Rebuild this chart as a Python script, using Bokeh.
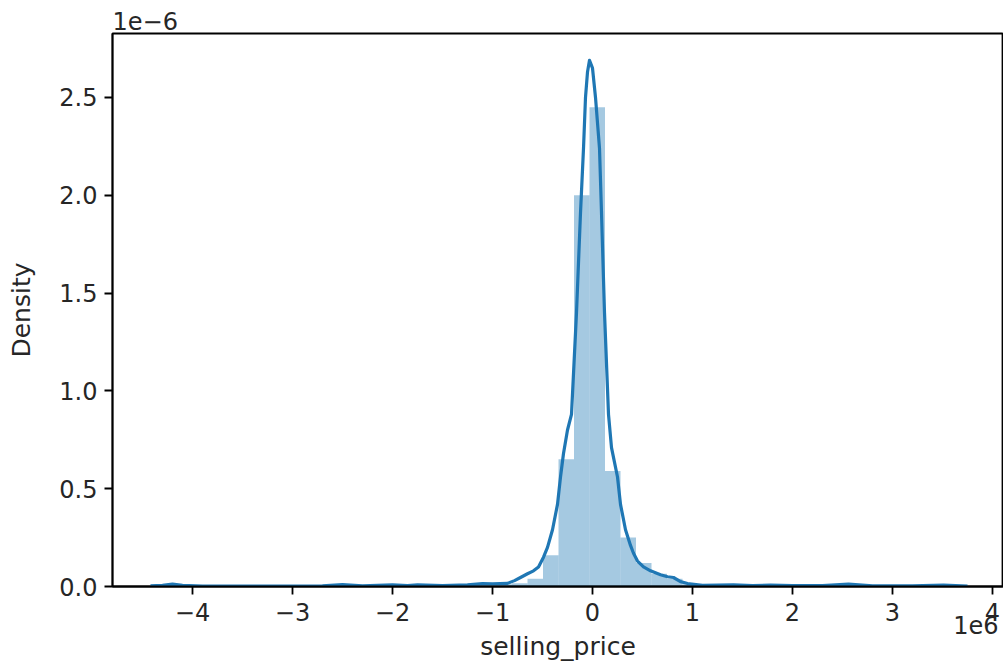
from bokeh.plotting import figure
from bokeh.models import FixedTicker, ColumnDataSource, Title
from bokeh.embed import file_html
from bokeh.resources import INLINE

# Values: x in units of 1e6 (selling_price residual), y in units of 1e-6 (density)
bin_edges = [-4.215, -4.06, -3.905, -3.75, -3.595, -3.44, -3.285, -3.13, -2.975, -2.82,
             -2.665, -2.51, -2.355, -2.2, -2.045, -1.89, -1.735, -1.58, -1.425, -1.27,
             -1.115, -0.96, -0.805, -0.65, -0.495, -0.34, -0.185, -0.03, 0.125, 0.28,
             0.435, 0.59, 0.745, 0.9, 1.055, 1.21, 1.365, 1.52, 1.675, 1.83,
             1.985, 2.14, 2.295, 2.45, 2.605, 2.76, 2.915, 3.07, 3.225, 3.38, 3.535]
bin_density = [0.006, 0.0, 0.0, 0.0, 0.002, 0.0, 0.0, 0.002, 0.0, 0.002,
               0.004, 0.006, 0.0, 0.002, 0.006, 0.004, 0.006, 0.002, 0.004, 0.006,
               0.012, 0.012, 0.016, 0.04, 0.16, 0.65, 2.0, 2.45, 0.59, 0.25,
               0.12, 0.065, 0.04, 0.012, 0.004, 0.004, 0.004, 0.002, 0.004, 0.002,
               0.002, 0.0, 0.004, 0.008, 0.004, 0.0, 0.002, 0.002, 0.002, 0.004]

kde_x = [-4.42, -4.3, -4.2, -4.1, -3.9, -3.5, -3.0, -2.7, -2.5, -2.3, -2.0, -1.85, -1.75,
         -1.5, -1.25, -1.1, -1.0, -0.85, -0.78, -0.72, -0.65, -0.59, -0.54, -0.49, -0.45,
         -0.40, -0.35, -0.32, -0.29, -0.25, -0.21, -0.16, -0.12, -0.09, -0.07, -0.05,
         -0.03, 0.0, 0.03, 0.07, 0.09, 0.12, 0.16, 0.19, 0.25, 0.28, 0.33, 0.38, 0.41,
         0.45, 0.51, 0.58, 0.68, 0.75, 0.81, 0.88, 0.95, 1.1, 1.41, 1.6, 1.78, 2.0, 2.3,
         2.56, 2.8, 3.2, 3.51, 3.75]
kde_y = [0.003, 0.006, 0.012, 0.006, 0.002, 0.002, 0.002, 0.003, 0.010, 0.003, 0.008, 0.005, 0.008,
         0.004, 0.008, 0.015, 0.014, 0.016, 0.03, 0.046, 0.065, 0.08, 0.10, 0.15, 0.20,
         0.29, 0.42, 0.56, 0.68, 0.80, 0.88, 1.40, 1.91, 2.24, 2.50, 2.63,
         2.69, 2.65, 2.50, 2.24, 1.91, 1.40, 0.88, 0.71, 0.56, 0.42, 0.29, 0.21, 0.17,
         0.13, 0.10, 0.08, 0.06, 0.05, 0.046, 0.025, 0.015, 0.006, 0.008, 0.004, 0.007, 0.004, 0.004,
         0.012, 0.003, 0.003, 0.007, 0.002]

x_ticks = [-4, -3, -2, -1, 0, 1, 2, 3, 4]
x_tick_labels = ["−4", "−3", "−2", "−1", "0", "1", "2", "3", "4"]
y_ticks = [0.0, 0.5, 1.0, 1.5, 2.0, 2.5]
y_tick_labels = ["0.0", "0.5", "1.0", "1.5", "2.0", "2.5"]
y_offset_text = "1e−6"
x_offset_text = "1e6"
x_label = "selling_price"
y_label = "Density"

FONT = "DejaVu Sans"
TXT = "#262626"
BLUE = "#1f77b4"
TICK_FS = "24px"
LAB_FS = "25px"

p = figure(width=1003, height=671, output_backend="svg", toolbar_location=None,
           x_range=(-4.80, 4.11), y_range=(0, 2.827),
           min_border_left=112, min_border_right=0, min_border_top=33, min_border_bottom=85)
p.grid.visible = False
p.outline_line_color = "black"
p.outline_line_width = 1.8
p.background_fill_color = "white"
p.border_fill_color = "white"

src = ColumnDataSource(dict(left=bin_edges[:-1], right=bin_edges[1:], top=bin_density,
                            bottom=[0.0] * len(bin_density)))
p.quad(left="left", right="right", top="top", bottom="bottom", source=src,
       fill_color=BLUE, fill_alpha=0.4, line_color=None)
p.line(kde_x, kde_y, line_color=BLUE, line_width=3.2, line_join="round")

for ax, ticks, labels in ((p.xaxis[0], x_ticks, x_tick_labels), (p.yaxis[0], y_ticks, y_tick_labels)):
    ax.ticker = FixedTicker(ticks=ticks)
    ax.major_label_overrides = {t: l for t, l in zip(ticks, labels)}
    ax.minor_tick_line_color = None
    ax.major_tick_out = 8
    ax.major_tick_in = 0
    ax.major_tick_line_width = 1.8
    ax.axis_line_width = 1.8
    ax.major_label_text_font = FONT
    ax.major_label_text_font_size = TICK_FS
    ax.major_label_text_color = TXT
    ax.axis_label_text_font = FONT
    ax.axis_label_text_font_style = "normal"
    ax.axis_label_text_color = TXT

p.xaxis.major_label_standoff = 8
p.yaxis.major_label_standoff = 7
p.yaxis.axis_label = y_label
p.yaxis.axis_label_text_font_size = LAB_FS
p.yaxis.axis_label_standoff = 20

# offset text of the y axis, above the frame at the left
top_title = Title(text=y_offset_text, align="left", text_font=FONT, text_font_size=TICK_FS,
                  text_font_style="normal", text_color=TXT, standoff=7, offset=0)
p.add_layout(top_title, "above")

# offset text of the x axis: right-aligned, raised to the level of the tick labels
off_title = Title(text=x_offset_text, align="right", text_font=FONT, text_font_size=TICK_FS,
                  text_font_style="normal", text_color=TXT, offset=5)
try:
    off_title.standoff = -20
except Exception:
    off_title.standoff = 0
p.add_layout(off_title, "below")

# x axis label below
bottom_title = Title(text=x_label, align="center", text_font=FONT, text_font_size=LAB_FS,
                     text_font_style="normal", text_color=TXT, standoff=13)
p.add_layout(bottom_title, "below")

open("out.html", "w").write(file_html(p, INLINE))
